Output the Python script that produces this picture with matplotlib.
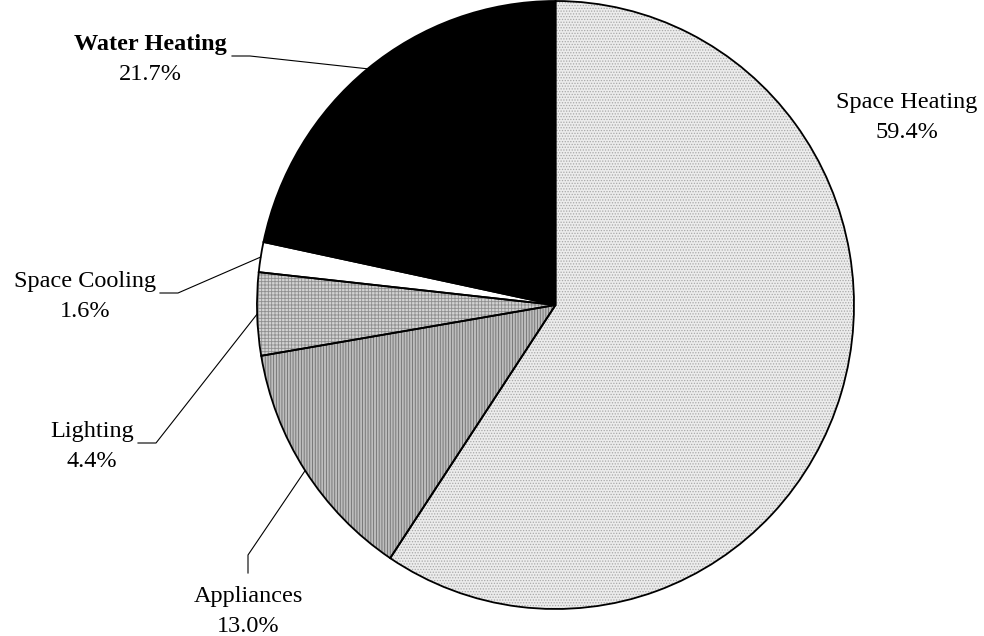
import matplotlib
matplotlib.use("Agg")
import matplotlib.pyplot as plt
import numpy as np

plt.rcParams["font.family"] = ["Liberation Serif", "DejaVu Serif"]
plt.rcParams["hatch.linewidth"] = 0.6

# data
categories = ["Space Heating", "Appliances", "Lighting", "Space Cooling", "Water Heating"]
shares = [59.4, 13.0, 4.4, 1.6, 21.7]

# styles per slice
face_colors = ["#ececec", "#bdbdbd", "#d2d2d2", "white", "black"]
hatches = ["......", "||||||", "+++++", "", ""]
hatch_colors = ["#a8a8a8", "#6e6e6e", "#8e8e8e", "white", "black"]

fig = plt.figure(figsize=(9.84, 6.36), dpi=100)
ax = fig.add_axes([257 / 984, 27 / 636, 597 / 984, 608 / 636])


def fix_limits():
    ax.set_xlim(-1, 1)
    ax.set_ylim(-1, 1)
    ax.set_aspect("auto")


fix_limits()
ax.axis("off")

# hatched fills
wedges, _ = ax.pie(shares, startangle=90, counterclock=False, radius=1,
                   colors=face_colors, wedgeprops=dict(linewidth=0))
for w, h, hc in zip(wedges, hatches, hatch_colors):
    w.set_hatch(h)
    w.set_edgecolor(hc)
fix_limits()

# outlines
outl, _ = ax.pie(shares, startangle=90, counterclock=False, radius=1,
                 colors=["none"] * len(shares),
                 wedgeprops=dict(linewidth=1.3, edgecolor="black"))
fix_limits()

# label centre x and baselines of the two lines (figure pixels)
label_pos = {
    "Space Heating": (907, 108, 138),
    "Appliances": (248, 602, 632),
    "Lighting": (92, 437, 467),
    "Space Cooling": (85, 287, 317),
    "Water Heating": (150, 50, 80),
}
elbows = {
    "Appliances": [(248, 573), (248, 555)],
    "Lighting": [(138, 443), (156, 443)],
    "Space Cooling": [(160, 293), (178, 293)],
    "Water Heating": [(232, 56), (250, 56)],
}


def px_to_data(px, py):
    return ax.transData.inverted().transform((px, 636 - py))


total = sum(shares)
cum = 0
for cat, val in zip(categories, shares):
    mid = cum + val / 2
    cum += val
    ang = np.deg2rad(90 - 360 * mid / total)
    ex, ey = np.cos(ang), np.sin(ang)
    lx, b1, b2 = label_pos[cat]
    weight = "bold" if cat == "Water Heating" else "normal"
    tx, ty1 = px_to_data(lx, b1)
    _, ty2 = px_to_data(lx, b2)
    ax.text(tx, ty1, cat, ha="center", va="baseline", fontsize=17.5,
            fontweight=weight, clip_on=False)
    ax.text(tx, ty2, f"{val:.1f}%", ha="center", va="baseline", fontsize=17.5,
            clip_on=False)
    if cat in elbows:
        pts = [px_to_data(*p) for p in elbows[cat]] + [(ex, ey)]
        ax.plot([p[0] for p in pts], [p[1] for p in pts], color="black",
                lw=0.8, clip_on=False)

fig.savefig("out.png", dpi=100)
